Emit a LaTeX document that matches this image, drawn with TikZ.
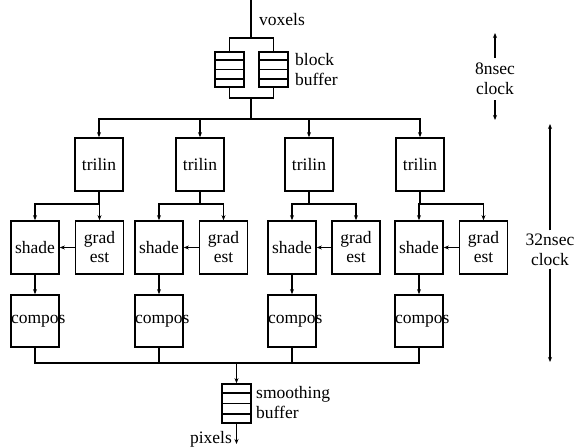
\documentclass[tikz,border=0pt]{standalone}
\usepackage{fontspec}
\setmainfont{Liberation Serif}
\usetikzlibrary{arrows.meta,calc}
\begin{document}
\begin{tikzpicture}[x=1pt,y=-1pt,
  every node/.style={font=\fontsize{17.5}{20}\selectfont},
  ln/.style={line width=1.7pt},
  arr/.style={ln,-{Stealth[length=5pt,width=4pt]}},
  unit/.style={draw,line width=1.7pt,minimum width=48pt,minimum height=53pt,inner sep=0pt,align=center},
  fifo/.style={draw,line width=1.7pt,minimum width=29pt,inner sep=0pt},
  lbl/.style={inner sep=0pt,align=left,anchor=west},
  clk/.style={inner sep=2pt,align=center}]
\useasboundingbox (0,0) rectangle (581,447);

% block buffer
\node[fifo,minimum height=35pt] (bbL) at (229.5,69.5) {};
\node[fifo,minimum height=35pt] (bbR) at (273.5,69.5) {};
\node[fifo,minimum height=39pt] (sb) at (236.5,403.5) {};
\foreach \n in {bbL,bbR,sb}{
  \foreach \f in {0.25,0.5,0.75}{
    \draw[ln] ($(\n.north west)!\f!(\n.south west)$) -- ($(\n.north east)!\f!(\n.south east)$);
  }
}
\node[lbl] (voxels) at (259,20) {voxels};
\node[lbl] (blk) at (295,70) {block\\buffer};
\node[lbl] (smooth) at (256,403) {smoothing\\buffer};
\node[inner sep=0pt,anchor=east] (pixels) at (232,439) {pixels};

\coordinate (vin) at (251,0);
\coordinate (vsplit) at (251,38);
\coordinate (bjoin) at (251,98);
\coordinate (busc) at (251,119);
\draw[ln] (vin) -- (vsplit);
\draw[ln] (bbL.north) |- (vsplit) -| (bbR.north);
\draw[ln] (bbL.south) |- (bjoin) -| (bbR.south);
\draw[ln] (bjoin) -- (busc);

% trilin
\node[unit] (t1) at (99,164.5) {trilin};
\node[unit] (t2) at (200,164.5) {trilin};
\node[unit] (t3) at (309,164.5) {trilin};
\node[unit] (t4) at (420,164.5) {trilin};
\draw[arr] (busc) -| (t1.north);
\draw[arr] (busc) -| (t4.north);
\draw[arr] (t2.north |- busc) -- (t2.north);
\draw[arr] (t3.north |- busc) -- (t3.north);

% shade / grad est
\node[unit] (s1) at (35,247.5) {shade};
\node[unit] (g1) at (99.5,247.5) {grad\\[-1pt]est};
\node[unit] (s2) at (159,247.5) {shade};
\node[unit] (g2) at (223.5,247.5) {grad\\[-1pt]est};
\node[unit] (s3) at (292,247.5) {shade};
\node[unit] (g3) at (356,247.5) {grad\\[-1pt]est};
\node[unit] (s4) at (419,247.5) {shade};
\node[unit] (g4) at (483.5,247.5) {grad\\[-1pt]est};

\foreach \i/\x in {1/99,2/200,3/309,4/420}{
  \coordinate (j\i) at (\x,204);
  \draw[ln] (t\i.south) -- (j\i);
  \draw[arr] (j\i) -| (s\i.north);
  \draw[arr] (j\i) -| (g\i.north);
  \draw[arr] (g\i.west) -- (s\i.east);
}

% compos
\foreach \i/\x in {1/35,2/159,3/292,4/419}{
  \node[unit,minimum height=52pt] (c\i) at (\x,321) {\makebox[48pt][l]{compos}};
  \draw[arr] (s\i.south) -- (c\i.north);
}
\coordinate (bb) at (236.5,363);
\draw[ln] (c1.south) |- (bb);
\draw[ln] (c4.south) |- (bb);
\draw[ln] (c2.south) -- (c2.south |- bb);
\draw[ln] (c3.south) -- (c3.south |- bb);
\draw[arr] (bb) -- (sb.north);
\coordinate (pout) at (236.5,444);
\draw[arr] (sb.south) -- (pout);

% clocks
\node[clk,inner sep=5pt] (clk8) at (495,79) {8nsec\\clock};
\coordinate (c8t) at (495,33);
\coordinate (c8b) at (495,120);
\draw[arr] (clk8.north) -- (c8t);
\draw[arr] (clk8.south) -- (c8b);
\node[clk,inner sep=3pt] (clk32) at (550,249.5) {32nsec\\clock};
\coordinate (c32t) at (550,124);
\coordinate (c32b) at (550,362);
\draw[arr] (clk32.north) -- (c32t);
\draw[arr] (clk32.south) -- (c32b);
\end{tikzpicture}
\end{document}
